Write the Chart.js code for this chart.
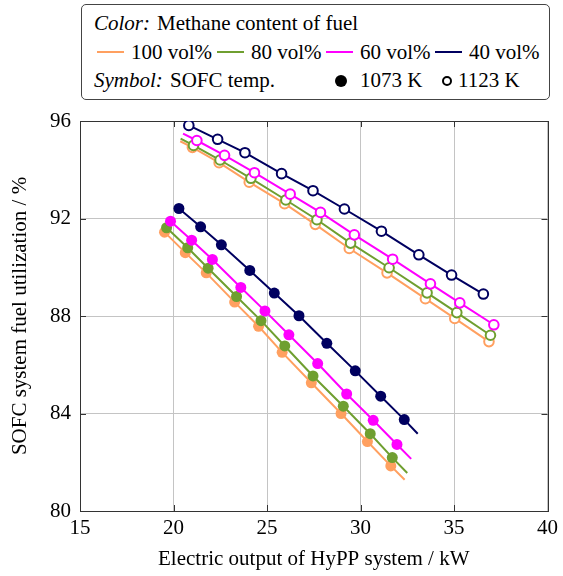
<!DOCTYPE html>
<html lang="en">
<head>
    <meta charset="UTF-8">
    <title>SOFC fuel utilization</title>
    <script src="https://cdn.jsdelivr.net/npm/chart.js"></script>
    <style>
        body { margin: 0; background: #fff; font-family: "Liberation Serif", "DejaVu Serif", serif; }
        #wrap { position: relative; width: 563px; height: 576px; }
        #chart { position: absolute; left: 0; top: 0; }
        #legend { position: absolute; left: 81px; top: 4px; width: 467px; height: 94px;
                  border: 1px solid #444; border-radius: 5px; background: #fff; }
        .it { position: absolute; font-family: "Liberation Serif", "DejaVu Serif", serif;
              font-size: 21px; line-height: 22px; white-space: nowrap; color: #000; }
        .ln { position: absolute; height: 2px; }
        .dot { position: absolute; border-radius: 50%; box-sizing: border-box; }
    </style>
</head>
<body>
<div id="wrap">
    <canvas id="chart" width="563" height="576"></canvas>
    <div id="legend"></div>
</div>
<script>
    // tick labels
    const ticksX = [15, 20, 25, 30, 35, 40];
    const ticksY = [80, 84, 88, 92, 96];

    // SOFC temp 1073 K (filled markers), by methane content
    const x1073_100 = [19.52, 20.63, 21.75, 23.27, 24.55, 25.81, 27.37, 28.96, 30.37, 31.62];
    const y1073_100 = [91.44, 90.60, 89.77, 88.57, 87.58, 86.51, 85.26, 84.00, 82.85, 81.85];
    const x1073_80 = [19.63, 20.76, 21.85, 23.37, 24.68, 25.95, 27.46, 29.08, 30.52, 31.70];
    const y1073_80 = [91.62, 90.80, 89.96, 88.80, 87.81, 86.77, 85.54, 84.30, 83.17, 82.19];
    const x1073_60 = [19.84, 20.97, 22.08, 23.60, 24.89, 26.17, 27.71, 29.26, 30.68, 31.95];
    const y1073_60 = [91.89, 91.11, 90.32, 89.17, 88.21, 87.23, 86.05, 84.80, 83.72, 82.73];
    const x1073_40 = [20.29, 21.45, 22.56, 24.08, 25.39, 26.71, 28.20, 29.72, 31.08, 32.34];
    const y1073_40 = [92.41, 91.66, 90.92, 89.87, 88.94, 88.01, 86.88, 85.75, 84.71, 83.75];
    // where the 1073 K lines stop (100, 80, 60, 40 vol%)
    const end1073X = [32.36, 32.50, 32.71, 33.06];
    const end1073Y = [81.28, 81.56, 82.14, 83.17];

    // SOFC temp 1123 K (open markers)
    const x1123_100 = [21.01, 22.44, 24.05, 25.94, 27.58, 29.40, 31.42, 33.47, 35.04, 36.87];
    const y1123_100 = [94.92, 94.29, 93.49, 92.61, 91.76, 90.77, 89.77, 88.71, 87.90, 86.95];
    const x1123_80 = [21.07, 22.49, 24.14, 26.01, 27.67, 29.47, 31.53, 33.56, 35.15, 36.95];
    const y1123_80 = [95.00, 94.40, 93.65, 92.76, 91.95, 90.99, 89.98, 88.95, 88.14, 87.21];
    const x1123_60 = [21.25, 22.73, 24.33, 26.24, 27.86, 29.67, 31.72, 33.74, 35.31, 37.13];
    const y1123_60 = [95.20, 94.59, 93.88, 93.00, 92.25, 91.33, 90.33, 89.32, 88.54, 87.64];
    const x1123_40 = [20.82, 22.36, 23.82, 25.78, 27.46, 29.14, 31.12, 33.12, 34.87, 36.57];
    const y1123_40 = [95.82, 95.25, 94.70, 93.84, 93.14, 92.39, 91.48, 90.51, 89.68, 88.90];
    // where the 1123 K lines start (100, 80, 60, 40 vol%)
    const start1123X = [20.36, 20.38, 20.51, null];
    const start1123Y = [95.17, 95.28, 95.48, null];

    const methane = ['100 vol%', '80 vol%', '60 vol%', '40 vol%'];
    const colors = ['#ffa060', '#6f9f30', '#ff00ff', '#000060'];
    const temps = ['1073 K', '1123 K'];

    const FONT = '"Liberation Serif", "DejaVu Serif", serif';

    function build(xs, ys, pre, post) {
        const pts = xs.map((x, i) => ({ x: x, y: ys[i], m: true }));
        if (pre && pre[0] != null) pts.unshift({ x: pre[0], y: pre[1], m: false });
        if (post && post[0] != null) pts.push({ x: post[0], y: post[1], m: false });
        return pts;
    }

    function series(i, filled, pts) {
        const c = colors[i];
        return {
            label: methane[i] + ' ' + (filled ? temps[0] : temps[1]),
            data: pts,
            showLine: true,
            borderColor: c,
            borderWidth: 2,
            backgroundColor: filled ? c : '#fff',
            pointBorderColor: c,
            pointBackgroundColor: filled ? c : '#fff',
            pointBorderWidth: filled ? 0 : 2,
            pointRadius: ctx => ctx.raw && ctx.raw.m ? (filled ? 5.5 : 4.8) : 0,
            pointHoverRadius: ctx => ctx.raw && ctx.raw.m ? (filled ? 5.5 : 4.8) : 0,
            tension: 0
        };
    }

    // first in the list is drawn on top
    const datasets = [
        series(3, false, build(x1123_40, y1123_40, [start1123X[3], start1123Y[3]], null)),
        series(3, true, build(x1073_40, y1073_40, null, [end1073X[3], end1073Y[3]])),
        series(2, false, build(x1123_60, y1123_60, [start1123X[2], start1123Y[2]], null)),
        series(2, true, build(x1073_60, y1073_60, null, [end1073X[2], end1073Y[2]])),
        series(1, false, build(x1123_80, y1123_80, [start1123X[1], start1123Y[1]], null)),
        series(1, true, build(x1073_80, y1073_80, null, [end1073X[1], end1073Y[1]])),
        series(0, false, build(x1123_100, y1123_100, [start1123X[0], start1123Y[0]], null)),
        series(0, true, build(x1073_100, y1073_100, null, [end1073X[0], end1073Y[0]]))
    ];

    // box round the plot with short inward ticks
    const frame = {
        id: 'frame',
        beforeDatasetsDraw(chart) {
            const { ctx, chartArea: a, scales } = chart;
            ctx.save();
            ctx.strokeStyle = '#333';
            ctx.lineWidth = 1;
            ctx.beginPath();
            ticksY.forEach(v => {
                const y = Math.round(scales.y.getPixelForValue(v)) + 0.5;
                ctx.moveTo(a.left, y); ctx.lineTo(a.left + 6, y);
                ctx.moveTo(a.right, y); ctx.lineTo(a.right - 6, y);
            });
            ticksX.forEach(v => {
                const x = Math.round(scales.x.getPixelForValue(v)) + 0.5;
                ctx.moveTo(x, a.bottom); ctx.lineTo(x, a.bottom - 6);
                ctx.moveTo(x, a.top); ctx.lineTo(x, a.top + 6);
            });
            ctx.stroke();
            ctx.strokeRect(Math.round(a.left) + 0.5, Math.round(a.top) + 0.5,
                Math.round(a.right - a.left), Math.round(a.bottom - a.top));
            ctx.restore();
        }
    };

    new Chart(document.getElementById('chart'), {
        type: 'scatter',
        data: { datasets: datasets },
        options: {
            responsive: false,
            animation: false,
            layout: { padding: { top: 121, right: 13, left: 0, bottom: 0 } },
            plugins: { legend: { display: false }, tooltip: { enabled: false } },
            scales: {
                x: {
                    min: 15, max: 40,
                    afterFit: s => { s.height = 65; },
                    afterBuildTicks: s => { s.ticks = ticksX.map(v => ({ value: v })); },
                    grid: { color: '#c4c4c4', drawTicks: false },
                    border: { display: false },
                    ticks: { color: '#000', font: { family: FONT, size: 21 }, padding: 5, maxRotation: 0 },
                    title: { display: true, text: 'Electric output of HyPP system / kW', color: '#000',
                             font: { family: FONT, size: 21 }, padding: { top: 4, bottom: 4 } }
                },
                y: {
                    min: 80, max: 96,
                    afterFit: s => { s.width = 80; },
                    afterBuildTicks: s => { s.ticks = ticksY.map(v => ({ value: v })); },
                    grid: { color: '#c4c4c4', drawTicks: false },
                    border: { display: false },
                    ticks: { color: '#000', font: { family: FONT, size: 21 }, padding: 9 },
                    title: { display: true, text: 'SOFC system fuel utilization / %', color: '#000',
                             font: { family: FONT, size: 21 }, padding: { top: 8, bottom: 8 } }
                }
            }
        },
        plugins: [frame]
    });

    // legend (page coordinates, shifted into the box)
    const lg = document.getElementById('legend');
    const OX = 82, OY = 5;
    function text(html, left, cy) {
        const d = document.createElement('div');
        d.className = 'it';
        d.innerHTML = html;
        d.style.left = (left - OX) + 'px';
        d.style.top = (cy - 11 - OY) + 'px';
        lg.appendChild(d);
    }
    function line(color, x0, x1, cy) {
        const d = document.createElement('div');
        d.className = 'ln';
        d.style.background = color;
        d.style.left = (x0 - OX) + 'px';
        d.style.width = (x1 - x0) + 'px';
        d.style.top = (cy - 1 - OY) + 'px';
        lg.appendChild(d);
    }
    function dot(filled, cx, cy, r) {
        const d = document.createElement('div');
        d.className = 'dot';
        d.style.left = (cx - r - OX) + 'px';
        d.style.top = (cy - r - OY) + 'px';
        d.style.width = d.style.height = (2 * r) + 'px';
        if (filled) d.style.background = '#000';
        else { d.style.background = '#fff'; d.style.border = '2px solid #000'; }
        lg.appendChild(d);
    }
    text('<i>Color:</i>', 94, 23);
    text('Methane content of fuel', 157, 23);
    const sampleX = [97, 217, 326, 435];
    sampleX.forEach((x, i) => {
        line(colors[i], x, x + 27, 52);
        text(methane[i], x + 34, 52);
    });
    text('<i>Symbol:</i>', 94, 80);
    text('SOFC temp.', 170, 80);
    dot(true, 341, 81, 6);
    text(temps[0], 360, 80);
    dot(false, 447, 81, 5);
    text(temps[1], 458, 80);
</script>
</body>
</html>
